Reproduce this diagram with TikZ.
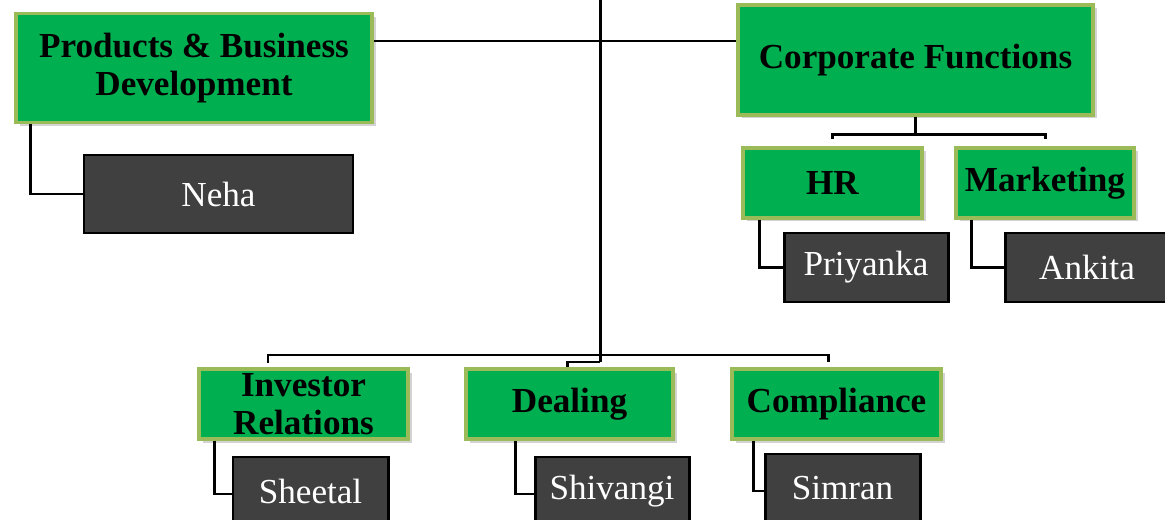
\documentclass[tikz,border=0pt]{standalone}
\usepackage{fontspec}
\setmainfont{Liberation Serif}
\usepackage{xcolor}
\usetikzlibrary{positioning,shadows}
\definecolor{unitgreen}{HTML}{00AF50}
\definecolor{unitedge}{HTML}{9BBB59}
\definecolor{persongray}{HTML}{404040}
\tikzset{
  unitbox/.style={draw=unitedge,fill=unitgreen,line width=1.8pt,align=center,
    font=\fontsize{20}{21.5}\selectfont\bfseries,inner sep=0pt,
    drop shadow={opacity=0.35,shadow xshift=0.07cm,shadow yshift=-0.07cm}},
  personbox/.style={draw=black,fill=persongray,line width=1.7pt,text=white,
    font=\fontsize{20}{22}\selectfont,inner sep=0pt},
  link/.style={line width=1.7pt}
}

\begin{document}
\begin{tikzpicture}
  \useasboundingbox (0,0) rectangle (23.3,-10.4);
  % units
  \node[unitbox,minimum width=7.12cm,minimum height=2.18cm] at(3.88,-1.36)(pbd){Products \& Business\\Development};
  \node[unitbox,minimum width=7.10cm,minimum height=2.20cm] at(18.31,-1.20)(corp){Corporate Functions};
  \node[unitbox,minimum width=3.58cm,minimum height=1.40cm] at(16.65,-3.66)(hr){HR};
  \node[unitbox,minimum width=3.56cm,minimum height=1.40cm] at(20.90,-3.66)(mkt){Marketing};
  \node[unitbox,minimum width=4.18cm,minimum height=1.40cm] at(6.07,-8.08)(ir){Investor\\Relations};
  \node[unitbox,minimum width=4.14cm,minimum height=1.40cm] at(11.39,-8.08)(deal){Dealing};
  \node[unitbox,minimum width=4.18cm,minimum height=1.40cm] at(16.73,-8.08)(comp){Compliance};
  % people
  \node[personbox,minimum width=5.38cm,minimum height=1.56cm] at(4.37,-3.88)(neha){Neha};
  \node[personbox,minimum width=3.28cm,minimum height=1.38cm] at(17.32,-5.35)(priyanka){Priyanka};
  \node[personbox,minimum width=3.28cm,minimum height=1.38cm] at(21.74,-5.35)(ankita){Ankita};
  \node[personbox,minimum width=3.10cm,minimum height=1.38cm] at(6.21,-9.83)(sheetal){Sheetal};
  \node[personbox,minimum width=3.08cm,minimum height=1.38cm] at(12.24,-9.83)(shivangi){Shivangi};
  \node[personbox,minimum width=3.10cm,minimum height=1.38cm] at(16.85,-9.77)(simran){Simran};
  % trunk
  \coordinate (top) at (12,0);
  \coordinate (hub) at (12,-0.82);
  \coordinate (foot) at (12,-7.24);
  \coordinate (barleft) at (5.36,-7.10);
  \coordinate (barright) at (16.56,-7.10);
  \draw[link] (top) -- (foot);
  \draw[link] (pbd.east |- hub) -- (corp.west |- hub);
  % bottom bar
  \draw[link] ([yshift=-0.16cm]barleft) -- (barleft) -- (barright) -- ([yshift=-0.14cm]barright);
  \draw[link] (foot) -| ([xshift=-0.05cm]deal.north);
  % corporate bar
  \draw[link] (corp.south) -- ++(0,-0.36) coordinate (cfbar);
  \draw[link] ([yshift=0.14cm]hr.north) |- (cfbar) -| ([yshift=0.14cm]mkt.north);
  % unit to person
  \draw[link] ([xshift=0.32cm]pbd.south west) |- (neha.west);
  \draw[link] ([xshift=0.36cm]hr.south west) |- (priyanka.west);
  \draw[link] ([xshift=0.34cm]mkt.south west) |- (ankita.west);
  \draw[link] ([xshift=0.34cm]ir.south west) |- ([yshift=-0.05cm]sheetal.west);
  \draw[link] ([xshift=1.02cm]deal.south west) |- ([yshift=-0.05cm]shivangi.west);
  \draw[link] ([xshift=0.46cm]comp.south west) |- ([yshift=-0.05cm]simran.west);
\end{tikzpicture}
\end{document}
